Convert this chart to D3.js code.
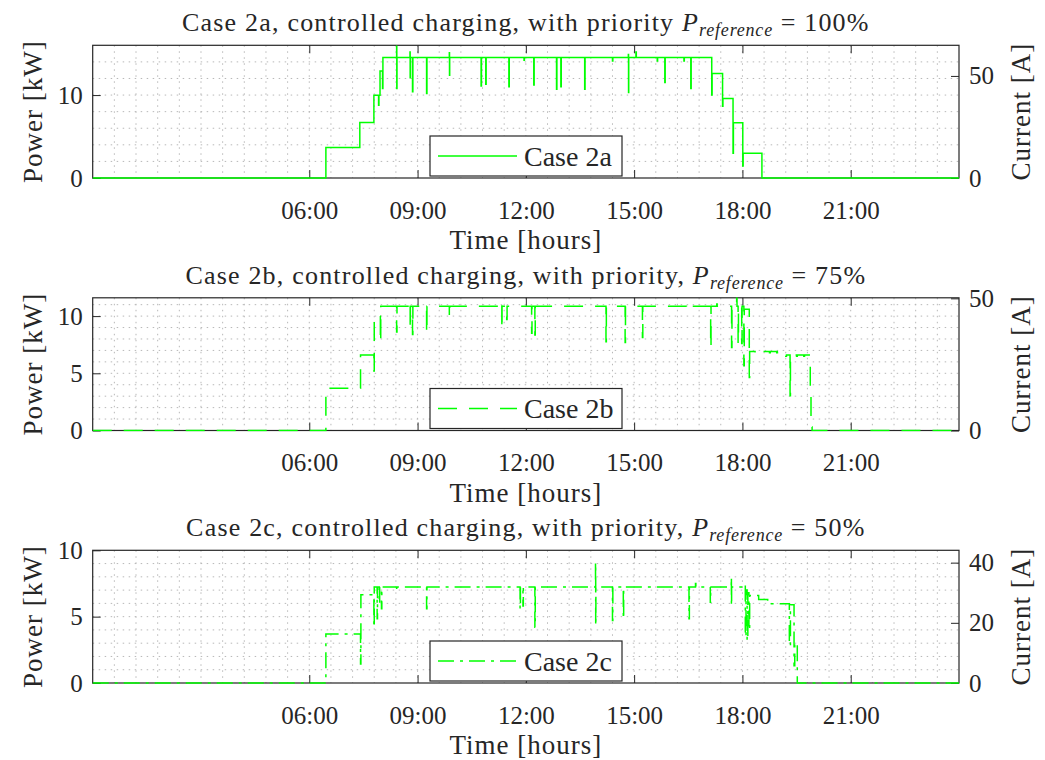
<!DOCTYPE html>
<html>
<head>
<meta charset="utf-8">
<script src="https://cdn.jsdelivr.net/npm/d3@7"></script>
<style>
  body { margin: 0; background: #fff; }
  svg { display: block; }
</style>
</head>
<body>
<svg id="chart" width="1045" height="760"></svg>
<script>
// ---- Data: charging power [kW] as step series over the day [hours] ----

// Case 2a, P_reference = 100%
const timeA = [0, 6.46, 7.40, 7.79, 7.92, 7.93, 7.96, 8.03, 8.04,
  8.42, 8.425, 8.43, 8.79, 8.795, 8.80, 8.86, 8.87, 9.25, 9.26,
  9.88, 9.885, 9.89, 10.76, 10.77, 10.89, 10.90, 11.53, 11.54,
  11.95, 11.96, 12.22, 12.23, 12.85, 12.86, 12.97, 12.98, 13.63, 13.64,
  14.40, 14.41, 14.84, 14.845, 14.85, 15.05, 15.06, 15.64, 15.65,
  15.85, 15.86, 16.38, 16.39, 16.57, 16.58, 17.15, 17.16, 17.45, 17.46,
  17.74, 17.75, 18.01, 18.02, 18.54, 24];
const powerA = [0, 3.69, 6.70, 9.99, 8.78, 9.99, 12.9, 10.8, 14.52,
  15.9, 10.8, 14.52, 15.2, 12.1, 14.52, 10.4, 14.52, 10.2, 14.52,
  15.1, 12.4, 14.52, 11.1, 14.52, 11.3, 14.52, 11.0, 14.52,
  14.2, 14.52, 11.2, 14.52, 10.7, 14.52, 11.0, 14.52, 10.7, 14.52,
  14.1, 14.52, 14.9, 10.3, 14.52, 15.2, 14.52, 14.1, 14.52,
  11.5, 14.52, 14.1, 14.52, 10.8, 14.52, 10.0, 12.6, 8.66, 9.59,
  2.97, 6.66, 1.45, 2.97, 0, 0];

// Case 2b, P_reference = 75%
const timeB = [0, 6.46, 7.42, 7.79, 7.80, 7.97, 7.98, 8.42, 8.43,
  8.79, 8.795, 8.80, 8.86, 8.87, 9.25, 9.26, 9.88, 9.89,
  11.33, 11.335, 11.34, 11.47, 11.48, 12.16, 12.17, 12.25, 12.26,
  14.22, 14.23, 14.75, 14.76, 15.23, 15.24, 16.45, 16.46,
  17.12, 17.13, 17.29, 17.30, 17.70, 17.71, 17.84, 17.85, 17.88, 17.89,
  17.98, 17.99, 18.04, 18.05, 18.19, 18.20,
  18.35, 18.37, 18.55, 18.57, 18.75, 18.77, 18.95, 18.97,
  19.09, 19.20, 19.22, 19.32, 19.33, 19.50, 19.52, 19.70, 19.72,
  19.88, 19.90, 19.93, 24];
const powerB = [0, 3.70, 6.60, 5.2, 10.0, 7.7, 10.87, 8.6, 10.87,
  11.35, 8.86, 10.87, 8.4, 10.87, 8.5, 10.87, 9.9, 10.87,
  11.26, 8.86, 10.87, 9.7, 10.87, 8.5, 10.87, 8.34, 10.87,
  7.76, 10.87, 7.7, 10.87, 8.14, 10.87, 10.6, 10.87,
  7.26, 10.87, 11.05, 10.87, 7.26, 10.87, 11.55, 10.87, 7.6, 10.87,
  7.6, 10.87, 5.66, 10.6, 4.64, 6.9,
  6.8, 6.9, 6.8, 6.9, 6.8, 6.9, 6.8, 6.9,
  6.6, 6.5, 6.6, 3.03, 6.6, 6.5, 6.6, 6.5, 6.6,
  3.6, 0.3, 0, 0];

// Case 2c, P_reference = 50%
const timeC = [0, 6.46, 7.42, 7.43, 7.79, 7.80, 7.88, 7.89, 7.94, 7.95,
  8.00, 8.01, 8.42, 8.43, 9.25, 9.26, 11.84, 11.85, 11.92, 11.93,
  12.25, 12.26, 13.93, 13.935, 13.94, 14.40, 14.41, 14.70, 14.71,
  16.52, 16.53, 16.70, 16.71, 17.11, 17.12, 17.69, 17.695, 17.70,
  18.07, 18.08, 18.10, 18.13, 18.15, 18.18, 18.20, 18.45, 18.70,
  19.30, 19.33, 19.43, 19.45, 19.52, 24];
const powerC = [0, 3.70, 1.44, 6.65, 4.2, 7.23, 4.84, 7.23, 5.97, 7.23,
  5.6, 7.23, 6.9, 7.23, 5.6, 7.23, 5.6, 7.23, 5.8, 7.23,
  4.2, 7.23, 9.07, 4.33, 7.23, 4.71, 7.23, 4.84, 7.23,
  4.84, 7.23, 7.5, 7.23, 6.09, 7.23, 7.94, 5.84, 7.23,
  7.4, 3.5, 7.0, 3.2, 6.8, 4.0, 6.6, 6.3, 5.97,
  2.82, 5.9, 1.3, 3.0, 0, 0];

// ---- Axis labels and ticks ----
const hourTicks = [6, 9, 12, 15, 18, 21];
const kwDomains = [16, 11.6, 10];
const ampDomains = [65, 50.2, 44.1];
const kwTicks = [[0, 10], [0, 5, 10], [0, 5, 10]];
const ampTicks = [[0, 50], [0, 50], [0, 20, 40]];
const kwMinorSteps = [2, 1, 1];
const caseNames = ["Case 2a", "Case 2b", "Case 2c"];
const titleHeads = ["Case 2a, controlled charging, with priority ",
                    "Case 2b, controlled charging, with priority, ",
                    "Case 2c, controlled charging, with priority, "];
const titleTails = ["= 100%", "= 75%", "= 50%"];

const series = [
  { time: timeA, power: powerA, dash: null },
  { time: timeB, power: powerB, dash: "19,12" },
  { time: timeC, power: powerC, dash: "16,6,3,6" }
];

// ---- Layout ----
const FONT = "'Liberation Serif', 'DejaVu Serif', serif";
const svg = d3.select("#chart").attr("font-family", FONT);
const plotLeft = 92.7, plotRight = 959;
const panelTops = [45.3, 297.8, 550.3];
const plotH = 132.7;
const axisColor = "#262626";
const lineColor = "#00ff00";

const x = d3.scaleLinear().domain([0, 24]).range([plotLeft, plotRight]);
const hourFmt = d => String(d).padStart(2, "0") + ":00";

function label(sel) {
  return sel.append("text").attr("font-family", FONT).attr("fill", axisColor);
}

series.forEach((s, i) => {
  const top = panelTops[i], bottom = top + plotH;
  const y = d3.scaleLinear().domain([0, kwDomains[i]]).range([bottom, top]);
  const yR = d3.scaleLinear().domain([0, ampDomains[i]]).range([bottom, top]);
  const g = svg.append("g");

  // clip for the data line
  svg.append("clipPath").attr("id", "clip" + i)
    .append("rect").attr("x", plotLeft).attr("y", top - 1)
    .attr("width", plotRight - plotLeft).attr("height", plotH + 2);

  // dotted grid
  const gridX = d3.range(0.6, 24, 0.6);
  const gridY = d3.range(kwMinorSteps[i], kwDomains[i], kwMinorSteps[i]);
  g.append("g").selectAll("line").data(gridX).join("line")
    .attr("x1", d => x(d)).attr("x2", d => x(d))
    .attr("y1", top).attr("y2", bottom)
    .attr("stroke", "#b8b8b8").attr("stroke-width", 1)
    .attr("stroke-dasharray", "1.5,4.5");
  g.append("g").selectAll("line").data(gridY).join("line")
    .attr("x1", plotLeft).attr("x2", plotRight)
    .attr("y1", d => y(d)).attr("y2", d => y(d))
    .attr("stroke", "#b8b8b8").attr("stroke-width", 1)
    .attr("stroke-dasharray", "1.5,4.5");

  // axes with inward ticks
  const xAxis = g.append("g").attr("transform", `translate(0,${bottom})`)
    .call(d3.axisBottom(x).tickValues(hourTicks).tickFormat(hourFmt)
      .tickSizeInner(-8).tickSizeOuter(0).tickPadding(23));
  const xTop = g.append("g").attr("transform", `translate(0,${top})`)
    .call(d3.axisTop(x).tickValues(hourTicks).tickFormat("")
      .tickSizeInner(-8).tickSizeOuter(0));
  const yAxis = g.append("g").attr("transform", `translate(${plotLeft},0)`)
    .call(d3.axisLeft(y).tickValues(kwTicks[i]).tickFormat(d3.format("d"))
      .tickSizeInner(-8).tickSizeOuter(0).tickPadding(10));
  const yAxisR = g.append("g").attr("transform", `translate(${plotRight},0)`)
    .call(d3.axisRight(yR).tickValues(ampTicks[i]).tickFormat(d3.format("d"))
      .tickSizeInner(-8).tickSizeOuter(0).tickPadding(10));
  [xAxis, xTop, yAxis, yAxisR].forEach(a => {
    a.attr("font-family", FONT);
    a.select(".domain").remove();
    a.selectAll(".tick line").attr("stroke", axisColor).attr("stroke-width", 1);
    a.selectAll(".tick text").attr("font-family", FONT).attr("font-size", 25)
      .attr("fill", axisColor);
  });

  // axes box
  g.append("rect").attr("x", plotLeft).attr("y", top)
    .attr("width", plotRight - plotLeft).attr("height", plotH)
    .attr("fill", "none").attr("stroke", axisColor).attr("stroke-width", 1.2);

  // data line
  const pts = s.time.map((t, k) => [t, s.power[k]]);
  const line = d3.line().x(d => x(d[0])).y(d => y(d[1])).curve(d3.curveStepAfter);
  g.append("path").datum(pts)
    .attr("clip-path", `url(#clip${i})`)
    .attr("d", line)
    .attr("fill", "none").attr("stroke", lineColor).attr("stroke-width", 1.5)
    .attr("stroke-dasharray", s.dash);

  // title
  const title = label(g).attr("x", (plotLeft + plotRight) / 2).attr("y", top - 14)
    .attr("text-anchor", "middle").attr("font-size", 26).attr("letter-spacing", 1.2);
  title.append("tspan").text(titleHeads[i]);
  title.append("tspan").attr("font-style", "italic").text("P");
  title.append("tspan").attr("font-style", "italic").attr("font-size", 18)
    .attr("letter-spacing", 0.8).attr("dy", 5).text("reference");
  title.append("tspan").attr("dy", -5).text(" " + titleTails[i]);

  // axis labels
  label(g).attr("x", (plotLeft + plotRight) / 2).attr("y", bottom + 71)
    .attr("text-anchor", "middle").attr("font-size", 27)
    .attr("letter-spacing", 1).text("Time [hours]");
  label(g)
    .attr("transform", `translate(42,${(top + bottom) / 2}) rotate(-90)`)
    .attr("text-anchor", "middle").attr("font-size", 27)
    .attr("letter-spacing", 1).text("Power [kW]");
  label(g)
    .attr("transform", `translate(1030,${(top + bottom) / 2}) rotate(-90)`)
    .attr("text-anchor", "middle").attr("font-size", 27)
    .attr("letter-spacing", 1).text("Current [A]");

  // legend
  const lg = g.append("g");
  lg.append("rect").attr("x", 430).attr("y", bottom - 42)
    .attr("width", 192).attr("height", 40)
    .attr("fill", "#fff").attr("stroke", axisColor).attr("stroke-width", 1.2);
  lg.append("line").attr("x1", 438).attr("x2", 517)
    .attr("y1", bottom - 22).attr("y2", bottom - 22)
    .attr("stroke", lineColor).attr("stroke-width", 1.5)
    .attr("stroke-dasharray", s.dash);
  label(lg).attr("x", 524).attr("y", bottom - 22)
    .attr("dominant-baseline", "central").attr("font-size", 28)
    .text(caseNames[i]);
});
</script>
</body>
</html>
